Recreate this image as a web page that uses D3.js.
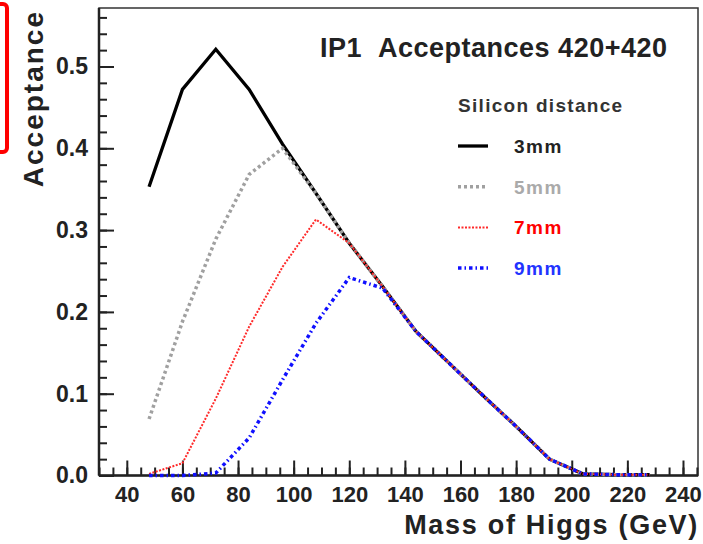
<!DOCTYPE html>
<html>
<head>
<meta charset="utf-8">
<script src="https://cdn.jsdelivr.net/npm/d3@7"></script>
<style>
  html, body { margin: 0; padding: 0; background: #fff; }
  svg { display: block; }
  text { font-family: "Liberation Sans", Arial, Helvetica, sans-serif; font-weight: bold; }
</style>
</head>
<body>
<svg id="chart" width="703" height="544"></svg>
<script>
// Higgs mass (GeV) at which acceptance was evaluated
const masses = [48, 60, 72, 84, 96, 108, 120, 132, 144, 156, 168, 180, 192, 204, 216, 228];

// acceptance per silicon distance
const acc3mm = [0.353, 0.472, 0.521, 0.472, 0.405, 0.345, 0.284, 0.231, 0.176, 0.137, 0.098, 0.060, 0.020, 0.002, 0.001, 0.001];
const acc5mm = [0.069, 0.188, 0.289, 0.368, 0.400, 0.345, 0.284, 0.231, 0.176, 0.137, 0.098, 0.060, 0.020, 0.002, 0.001, 0.001];
const acc7mm = [0.002, 0.015, 0.094, 0.182, 0.255, 0.313, 0.284, 0.231, 0.176, 0.137, 0.098, 0.060, 0.020, 0.002, 0.001, 0.001];
const acc9mm = [0.000, 0.000, 0.003, 0.046, 0.117, 0.186, 0.242, 0.229, 0.176, 0.137, 0.098, 0.060, 0.020, 0.002, 0.001, 0.001];

const seriesNames = ['3mm', '5mm', '7mm', '9mm'];
const xTickLabels = [40, 60, 80, 100, 120, 140, 160, 180, 200, 220, 240];
const yTickLabels = [0.0, 0.1, 0.2, 0.3, 0.4, 0.5];

const titleText = 'IP1\u00a0\u00a0Acceptances 420+420';
const legendTitle = 'Silicon distance';

const svg = d3.select('#chart');

const frameL = 99, frameR = 698, frameT = 8, frameB = 475.5;

const x = d3.scaleLinear().domain([30, 245.4]).range([frameL, frameR]);
const y = d3.scaleLinear().domain([0, 0.5715]).range([frameB, frameT]);

// red box hanging in from the left edge
svg.append('rect')
    .attr('x', -20).attr('y', 4)
    .attr('width', 27).attr('height', 148)
    .attr('rx', 4)
    .attr('fill', 'none')
    .attr('stroke', '#f00')
    .attr('stroke-width', 4);

// frame
svg.append('rect')
    .attr('x', frameL).attr('y', frameT)
    .attr('width', frameR - frameL).attr('height', frameB - frameT)
    .attr('fill', 'none')
    .attr('stroke', '#333')
    .attr('stroke-width', 1.5);

// x axis (ticks point inward)
const xMinor = d3.range(30, 246, 5);
svg.append('g')
    .attr('transform', `translate(0,${frameB})`)
    .call(d3.axisBottom(x).tickValues(xMinor).tickSize(-8).tickFormat(''))
    .call(g => g.select('.domain').remove());

const gx = svg.append('g')
    .attr('transform', `translate(0,${frameB})`)
    .call(d3.axisBottom(x).tickValues(xTickLabels).tickSize(-15).tickPadding(10).tickFormat(d3.format('d')))
    .call(g => g.select('.domain').remove());
gx.selectAll('text')
    .attr('font-size', 22)
    .attr('fill', '#222')
    .attr('dy', '0.75em');

// y axis
const yMinor = d3.range(0, 0.5701, 0.02);
svg.append('g')
    .attr('transform', `translate(${frameL},0)`)
    .call(d3.axisLeft(y).tickValues(yMinor).tickSize(-8).tickFormat(''))
    .call(g => g.select('.domain').remove());

const gy = svg.append('g')
    .attr('transform', `translate(${frameL},0)`)
    .call(d3.axisLeft(y).tickValues(yTickLabels).tickSize(-15).tickPadding(11).tickFormat(d3.format('.1f')))
    .call(g => g.select('.domain').remove());
gy.selectAll('text')
    .attr('font-size', 23)
    .attr('fill', '#222');

svg.selectAll('.tick line')
    .attr('stroke', '#222')
    .attr('stroke-width', 2);

// axis lines drawn thicker on top of the frame
svg.append('line')
    .attr('x1', frameL).attr('x2', frameR)
    .attr('y1', frameB).attr('y2', frameB)
    .attr('stroke', '#222').attr('stroke-width', 2.5);
svg.append('line')
    .attr('x1', frameL).attr('x2', frameL)
    .attr('y1', frameT).attr('y2', frameB)
    .attr('stroke', '#222').attr('stroke-width', 2.5);

// axis titles
svg.append('text')
    .attr('x', frameR + 1)
    .attr('y', 534)
    .attr('text-anchor', 'end')
    .attr('font-size', 27)
    .attr('letter-spacing', 1.7)
    .attr('fill', '#222')
    .text('Mass of Higgs (GeV)');

svg.append('text')
    .attr('transform', 'translate(43,10) rotate(-90)')
    .attr('text-anchor', 'end')
    .attr('font-size', 28)
    .attr('letter-spacing', 2)
    .attr('fill', '#222')
    .text('Acceptance');

// title
svg.append('text')
    .attr('x', 320)
    .attr('y', 57)
    .attr('font-size', 27)
    .attr('letter-spacing', 0.5)
    .attr('fill', '#222')
    .text(titleText);

// curves
const styles = [
    { data: acc3mm, color: '#000', width: 3.3, dash: null, label: '#222' },
    { data: acc5mm, color: '#a0a0a0', width: 3.5, dash: '3,3', label: '#aaa' },
    { data: acc7mm, color: '#ff2a2a', width: 2, dash: '2,1.5', label: '#ff0000' },
    { data: acc9mm, color: '#1010ff', width: 3.5, dash: '3.5,3,1.5,3', label: '#2233ff' }
];

const line = d3.line()
    .x(d => x(d[0]))
    .y(d => y(d[1]));

styles.forEach(s => {
    svg.append('path')
        .datum(masses.map((m, i) => [m, s.data[i]]))
        .attr('d', line)
        .attr('fill', 'none')
        .attr('stroke', s.color)
        .attr('stroke-width', s.width)
        .attr('stroke-dasharray', s.dash)
        .attr('stroke-linejoin', 'miter');
});

// legend
const lg = svg.append('g');
lg.append('text')
    .attr('x', 458).attr('y', 112)
    .attr('font-size', 19)
    .attr('letter-spacing', 1.3)
    .attr('fill', '#333')
    .text(legendTitle);

styles.forEach((s, i) => {
    const yy = 146 + i * 40.7;
    lg.append('line')
        .attr('x1', 458).attr('x2', 488)
        .attr('y1', yy).attr('y2', yy)
        .attr('stroke', s.color)
        .attr('stroke-width', s.width)
        .attr('stroke-dasharray', s.dash);
    lg.append('text')
        .attr('x', 514).attr('y', yy + 7)
        .attr('font-size', 19)
        .attr('letter-spacing', 1.5)
        .attr('fill', s.label)
        .text(seriesNames[i]);
});
</script>
</body>
</html>
